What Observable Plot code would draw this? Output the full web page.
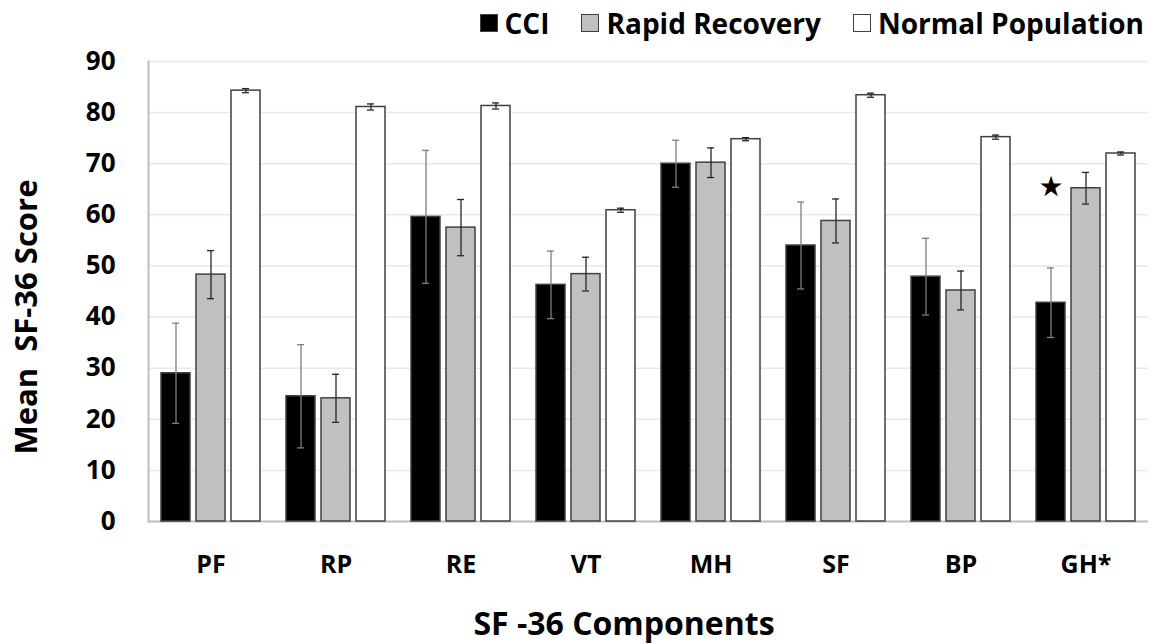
<!DOCTYPE html>
<html>
<head>
<meta charset="utf-8">
<script src="https://cdn.jsdelivr.net/npm/d3@7"></script>
<script src="https://cdn.jsdelivr.net/npm/@observablehq/plot@0.6"></script>
<style>
  body { margin: 0; background: #fff; }
  #wrap { position: relative; width: 1158px; height: 644px; font-family: "Open Sans", sans-serif; font-weight: 700; color: #000; }
  #legend { position: absolute; top: 3px; right: 14px; display: flex; align-items: center; font-size: 28px; line-height: 40px; white-space: nowrap; }
  #legend .item { display: flex; align-items: center; margin-left: 32px; }
  #legend .sw { width: 18px; height: 18px; box-sizing: border-box; border: 1.5px solid #404040; margin-right: 7px; }
  #ylab { position: absolute; left: 25px; top: 317px; transform: translate(-50%, -50%) rotate(-90deg); font-size: 31px; white-space: pre; line-height: 34px; }
  #xlab { position: absolute; left: 624px; top: 604px; transform: translateX(-50%); font-size: 32px; white-space: pre; line-height: 38px; }
  #chart { position: absolute; left: 0; top: 0; }
</style>
</head>
<body>
<div id="wrap">
  <div id="chart"></div>
  <div id="legend"></div>
  <div id="ylab"></div>
  <div id="xlab"></div>
</div>
<script>
// ---- data ----
const components = ["PF", "RP", "RE", "VT", "MH", "SF", "BP", "GH*"];
const seriesNames = ["CCI", "Rapid Recovery", "Normal Population"];
const seriesColors = ["#000000", "#c0c0c0", "#ffffff"];
const cciMean    = [29.0, 24.5, 59.6, 46.3, 70.0, 54.0, 47.9, 42.8];
const cciErr     = [9.8, 10.1, 13.0, 6.6, 4.6, 8.5, 7.5, 6.8];
const rapidMean  = [48.3, 24.1, 57.5, 48.4, 70.2, 58.8, 45.2, 65.2];
const rapidErr   = [4.7, 4.7, 5.5, 3.3, 2.9, 4.3, 3.8, 3.1];
const normalMean = [84.3, 81.1, 81.3, 60.9, 74.8, 83.4, 75.2, 72.0];
const normalErr  = [0.4, 0.6, 0.6, 0.4, 0.3, 0.4, 0.4, 0.3];
const yTicks = [0, 10, 20, 30, 40, 50, 60, 70, 80, 90];
const starNotes = [{component: "GH*", series: "CCI", value: 65.5, label: "★"}];
const yLabel = "Mean\u00a0 SF-36 Score";
const xLabel = "SF -36 Components";

// ---- table ----
const means = [cciMean, rapidMean, normalMean];
const errs = [cciErr, rapidErr, normalErr];
const data = [];
components.forEach((c, i) => {
  seriesNames.forEach((s, j) => {
    data.push({component: c, series: s, mean: means[j][i], err: errs[j][i]});
  });
});
const errColor = d => d.series === "CCI" ? "#7f7f7f" : "#262626";

const chart = Plot.plot({
  width: 1158,
  height: 644,
  marginLeft: 146,
  marginRight: 8,
  marginTop: 61,
  marginBottom: 123,
  style: {fontFamily: "'Open Sans', sans-serif", fontWeight: 700, color: "#000", background: "transparent", overflow: "visible"},
  fx: {domain: components, padding: 0, label: null},
  x: {domain: seriesNames, paddingInner: 0.167, paddingOuter: 0.326, axis: null},
  y: {domain: [0, 90], axis: null},
  color: {domain: seriesNames, range: seriesColors},
  marks: [
    Plot.gridY(yTicks, {stroke: "#ebe9dc", strokeOpacity: 1, strokeWidth: 1.5}),
    Plot.ruleY([0], {stroke: "#bfbfbf", strokeWidth: 2}),
    Plot.frame({anchor: "left", stroke: "#bfbfbf", strokeWidth: 2, fx: () => components[0]}),
    Plot.barY(data, {fx: "component", x: "series", y: "mean", fill: "series", stroke: "#404040", strokeWidth: 1.5}),
    Plot.ruleX(data, {fx: "component", x: "series", y1: d => d.mean - d.err, y2: d => d.mean + d.err, stroke: errColor, strokeWidth: 1.3}),
    Plot.tickY(data, {fx: "component", x: "series", y: d => d.mean - d.err, insetLeft: 11, insetRight: 11, stroke: errColor, strokeWidth: 1.3}),
    Plot.tickY(data, {fx: "component", x: "series", y: d => d.mean + d.err, insetLeft: 11, insetRight: 11, stroke: errColor, strokeWidth: 1.3}),
    Plot.text(starNotes, {fx: "component", x: "series", y: "value", text: "label", fontSize: 28, fill: "#000", fontFamily: "DejaVu Sans"}),
    Plot.axisY(yTicks, {tickSize: 0, tickPadding: 33, fontSize: 26, tickFormat: d => String(d)}),
    Plot.axisFx({anchor: "bottom", tickSize: 0, tickPadding: 34, fontSize: 25, label: null})
  ]
});
document.getElementById("chart").append(chart);

// ---- legend & labels ----
const legend = document.getElementById("legend");
seriesNames.forEach((s, j) => {
  const item = document.createElement("div");
  item.className = "item";
  const sw = document.createElement("div");
  sw.className = "sw";
  sw.style.background = seriesColors[j];
  const t = document.createElement("span");
  t.textContent = s;
  item.append(sw, t);
  legend.append(item);
});
document.getElementById("ylab").textContent = yLabel;
document.getElementById("xlab").textContent = xLabel;
</script>
</body>
</html>
